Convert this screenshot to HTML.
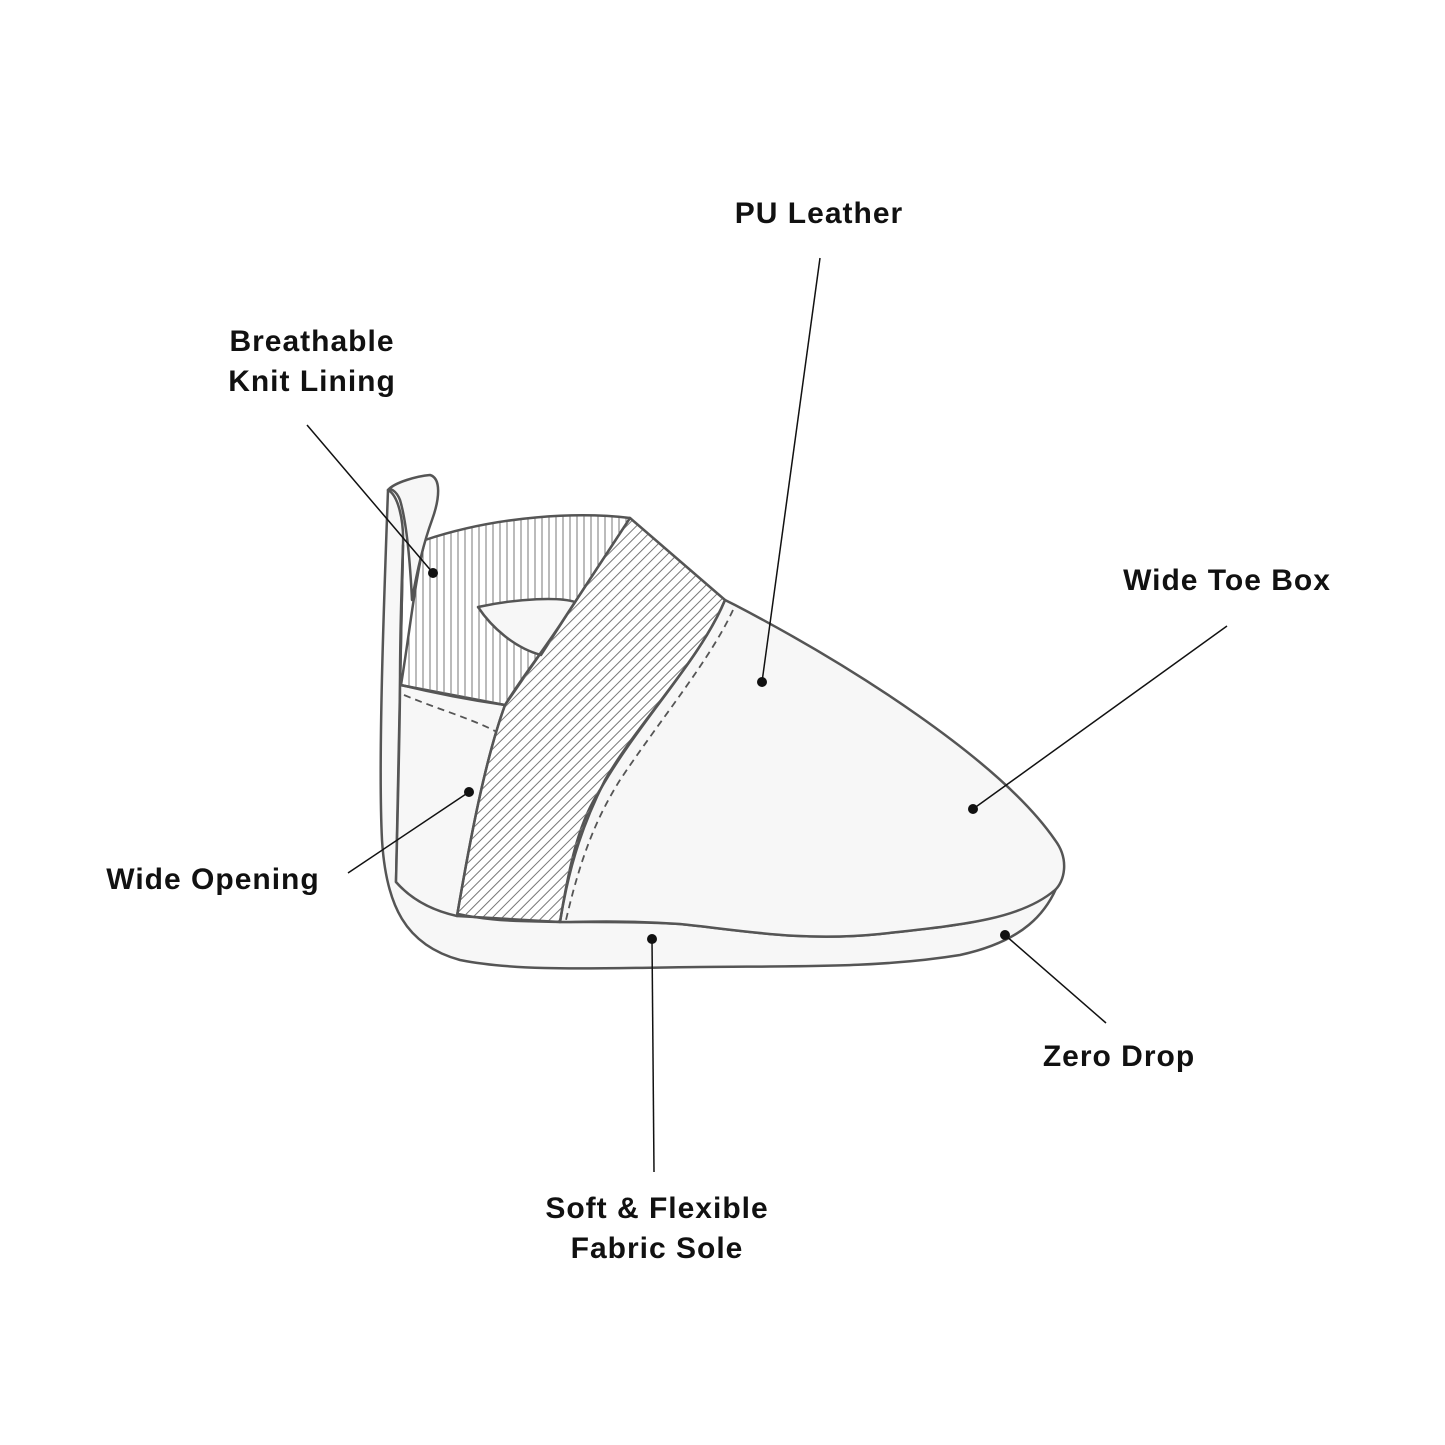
<!DOCTYPE html>
<html><head><meta charset="utf-8"><style>
html,body{margin:0;padding:0;background:#fff;}
svg{display:block}
text{font-family:"Liberation Sans",sans-serif;font-weight:bold;font-size:30px;letter-spacing:1px;fill:#111;}
</style></head><body>
<svg width="1445" height="1445" viewBox="0 0 1445 1445" xmlns="http://www.w3.org/2000/svg">
<defs>
<pattern id="vert" width="7" height="10" patternUnits="userSpaceOnUse"><line x1="3" y1="0" x2="3" y2="10" stroke="#777" stroke-width="1"/></pattern>
<pattern id="diag" width="7" height="7" patternUnits="userSpaceOnUse" patternTransform="rotate(45)"><line x1="3" y1="0" x2="3" y2="7" stroke="#777" stroke-width="1"/></pattern>
</defs>
<g stroke="#555" stroke-width="2.5" fill="#f7f7f7" stroke-linejoin="round">
<!-- outer heel + sole -->
<path d="M388,490 C384,600 378,760 382,840 C386,905 405,945 460,960 C520,972 600,968 700,967 C800,966 880,968 960,955 C1020,942 1050,915 1062,872 L1055,888 C1020,920 960,925 880,934 C800,942 740,930 680,924 C620,920 560,924 500,920 C450,916 420,905 396,882 C398,760 400,640 403,545 C404,520 398,495 388,490 Z"/>
<!-- heel body -->
<path d="M403,545 C401,600 400,640 400,685 L505,705 C485,760 470,840 457,916 C430,910 410,898 396,882 C398,800 400,720 400,685 Z"/>
<!-- knit lining -->
<path d="M425,540 C500,515 580,512 630,518 L560,625 L505,705 C470,700 430,692 401,685 C410,630 415,580 425,540 Z" fill="url(#vert)"/>
<path d="M478,607 C520,598 560,597 575,602 L541,655 C515,648 492,628 478,607 Z" fill="#f7f7f7"/>
<!-- pull tab -->
<path d="M388,490 C395,482 418,476 430,475 C441,478 440,498 432,520 C424,542 418,565 412,600 C410,560 406,520 400,500 C396,490 390,488 388,490 Z"/>
<!-- main upper -->
<path d="M725,600 L735,605 C850,665 1000,760 1055,840 C1070,860 1064,882 1055,890 C1020,920 960,925 880,934 C800,942 740,930 680,924 C620,920 580,922 560,922 C570,860 580,820 600,790 C640,720 700,660 725,600 Z"/>
<!-- band -->
<path d="M630,518 L725,600 C700,660 640,720 605,780 C585,820 570,860 560,922 L457,916 C470,840 485,760 505,705 C520,680 540,655 560,625 Z" fill="url(#diag)"/>
</g>
<g stroke="#555" stroke-width="1.8" fill="none" stroke-dasharray="7,5">
<path d="M733,610 C710,660 660,720 620,780 C595,820 580,860 566,920"/>
<path d="M404,695 C440,710 470,718 497,732"/>
</g>
<g stroke="#111" stroke-width="1.5">
<line x1="820" y1="258" x2="762" y2="682"/>
<line x1="307" y1="425" x2="433" y2="573"/>
<line x1="1227" y1="626" x2="973" y2="809"/>
<line x1="348" y1="873" x2="469" y2="792"/>
<line x1="652" y1="939" x2="654" y2="1172"/>
<line x1="1005" y1="935" x2="1106" y2="1023"/>
</g>
<g fill="#111">
<circle cx="762" cy="682" r="5"/><circle cx="433" cy="573" r="5"/><circle cx="973" cy="809" r="5"/>
<circle cx="469" cy="792" r="5"/><circle cx="652" cy="939" r="5"/><circle cx="1005" cy="935" r="5"/>
</g>
<text x="819" y="223" text-anchor="middle">PU Leather</text>
<text x="312" y="351" text-anchor="middle">Breathable</text>
<text x="312" y="391" text-anchor="middle">Knit Lining</text>
<text x="1227" y="590" text-anchor="middle">Wide Toe Box</text>
<text x="213" y="889" text-anchor="middle">Wide Opening</text>
<text x="1119" y="1066" text-anchor="middle">Zero Drop</text>
<text x="657" y="1218" text-anchor="middle">Soft &amp; Flexible</text>
<text x="657" y="1258" text-anchor="middle">Fabric Sole</text>
</svg>
</body></html>
